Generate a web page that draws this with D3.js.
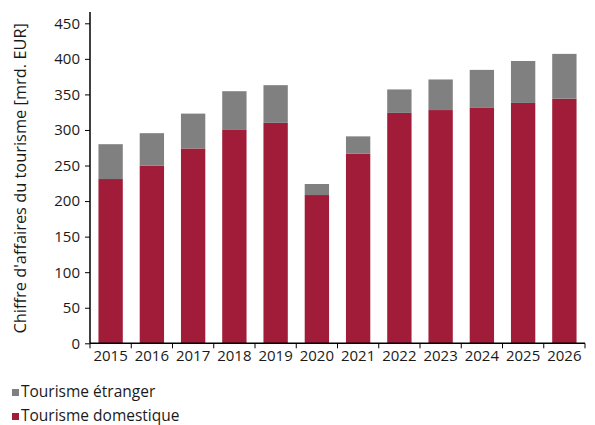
<!DOCTYPE html>
<html><head><meta charset="utf-8">
<script src="https://cdn.jsdelivr.net/npm/d3@7"></script>
<style>body{margin:0;background:#fff;} text{font-family:"Open Sans",Lato,sans-serif;fill:#1a1a1a;}</style>
</head><body>
<svg id="c" width="595" height="425"></svg>
<script>
const years = ["2015","2016","2017","2018","2019","2020","2021","2022","2023","2024","2025","2026"];
const domestique = [231, 250, 274, 300, 310, 208.5, 266.5, 324, 328, 331, 338, 344];
const etranger = [49, 45.5, 49, 54.5, 53, 15.5, 24.5, 33, 43, 53.5, 59, 63];
const yTicks = [0,50,100,150,200,250,300,350,400,450];
const seriesNames = ["Tourisme étranger","Tourisme domestique"];
const colors = {dom:"#a01c38", etr:"#808080"};

const svg = d3.select("#c");
const x = d3.scaleBand().domain(years).range([90,585]).paddingInner(0.41).paddingOuter(0.205);
const y = d3.scaleLinear().domain([0,450]).range([343.3,23.3]);

const g = svg.append("g");
years.forEach((yr,i)=>{
  g.append("rect").attr("x",x(yr)).attr("width",x.bandwidth())
   .attr("y",y(domestique[i])).attr("height",y(0)-y(domestique[i]))
   .attr("fill",colors.dom);
  g.append("rect").attr("x",x(yr)).attr("width",x.bandwidth())
   .attr("y",y(domestique[i]+etranger[i])).attr("height",y(domestique[i])-y(domestique[i]+etranger[i]))
   .attr("fill",colors.etr);
});

// y axis
const ya = svg.append("g").attr("transform","translate(90,0)")
  .call(d3.axisLeft(y).tickValues(yTicks).tickSize(5).tickPadding(5));
ya.select(".domain").attr("stroke","#000").attr("stroke-width",1.5).attr("d","M0,"+y(0)+"V12");
ya.selectAll(".tick line").attr("stroke","#000").attr("stroke-width",1);
ya.selectAll("text").style("font-size","15px").attr("fill","#1a1a1a");

// x axis
const xa = svg.append("g").attr("transform","translate(0,"+y(0)+")")
  .call(d3.axisBottom(x).tickSize(0).tickPadding(6));
xa.select(".domain").attr("stroke","#000").attr("stroke-width",1.5).attr("d","M90,0H585");
xa.selectAll("text").style("font-size","15px").attr("fill","#1a1a1a").attr("dy","0.75em");
const step = x.step();
years.concat(["end"]).forEach((d,i)=>{
  const px = 90 + i*step;
  xa.append("line").attr("x1",px).attr("x2",px).attr("y1",0).attr("y2",5).attr("stroke","#000");
});

// y title
svg.append("text").attr("transform","translate(26,"+((y(0)+y(450))/2 - 5)+") rotate(-90)")
  .attr("text-anchor","middle").style("font-size","16.4px")
  .text("Chiffre d'affaires du tourisme [mrd. EUR]");

// legend
const lg = svg.append("g");
[[seriesNames[0],colors.etr,397],[seriesNames[1],colors.dom,421]].forEach(([t,c,yy])=>{
  lg.append("rect").attr("x",12).attr("y",yy-8).attr("width",7).attr("height",7).attr("fill",c);
  lg.append("text").attr("x",21).attr("y",yy).style("font-size","15.5px").text(t);
});
</script>
</body></html>
